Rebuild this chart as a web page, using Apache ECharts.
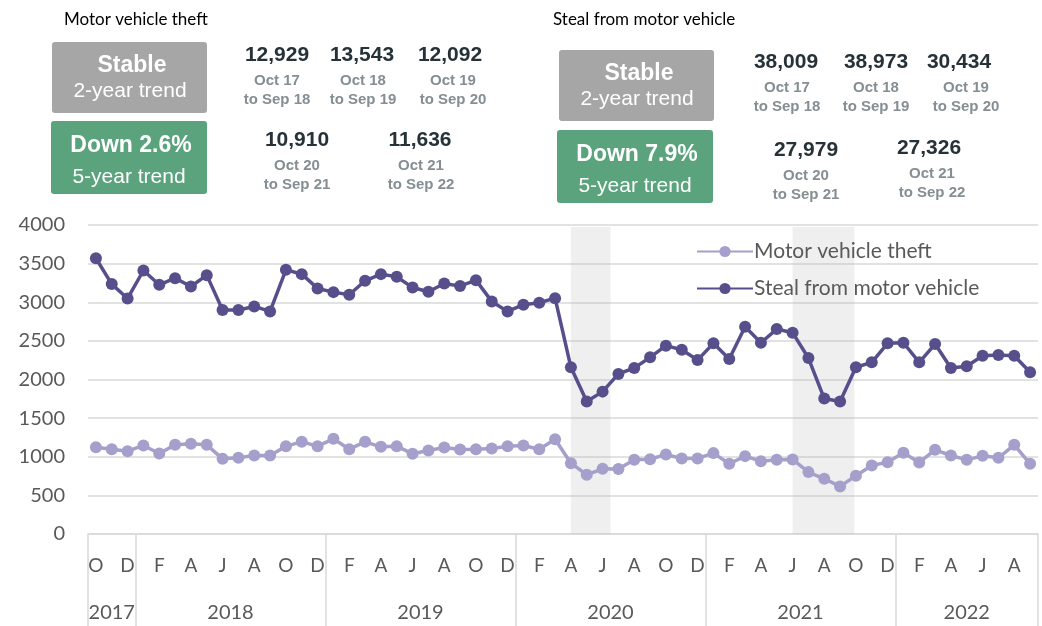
<!DOCTYPE html>
<html>
<head>
<meta charset="utf-8">
<title>Motor vehicle theft and steal from motor vehicle</title>
<script src="https://cdn.jsdelivr.net/npm/echarts@6/dist/echarts.min.js"></script>
<style>
  html, body { margin: 0; padding: 0; background: #fff; }
  #chart { width: 1042px; height: 626px; }
</style>
</head>
<body>
<div id="chart"></div>
<script>
// months Oct 2017 .. Sep 2022
var months = [
  'O','N','D',
  'J','F','M','A','M','J','J','A','S','O','N','D',
  'J','F','M','A','M','J','J','A','S','O','N','D',
  'J','F','M','A','M','J','J','A','S','O','N','D',
  'J','F','M','A','M','J','J','A','S','O','N','D',
  'J','F','M','A','M','J','J','A','S'
];
var years = ['2017', '2018', '2019', '2020', '2021', '2022'];
var yearStarts = [0, 3, 15, 27, 39, 51, 60];
var yearCentres = [1.5, 9, 21, 33, 45, 55.5];

var theft = [
  1124, 1098, 1072, 1146, 1042, 1154, 1167, 1154, 973, 986, 1016, 1016,
  1137, 1193, 1137, 1232, 1098, 1193, 1128, 1137, 1038, 1081, 1120, 1094,
  1098, 1107, 1137, 1146, 1098, 1227, 917, 767, 844, 840, 960, 969,
  1029, 978, 978, 1047, 909, 1008, 943, 960, 965, 801, 715, 616,
  754, 887, 930, 1051, 926, 1090, 1016, 960, 1012, 986, 1154, 909
];
var stealFrom = [
  3570, 3235, 3049, 3411, 3226, 3312, 3204, 3351, 2899, 2899, 2946, 2881,
  3420, 3364, 3179, 3131, 3097, 3278, 3364, 3329, 3191, 3136, 3243, 3209,
  3286, 3011, 2881, 2968, 2993, 3053, 2158, 1714, 1843, 2072, 2149, 2287,
  2438, 2386, 2253, 2468, 2265, 2683, 2476, 2653, 2606, 2278, 1753, 1714,
  2158, 2222, 2468, 2476, 2222, 2459, 2149, 2171, 2308, 2317, 2308, 2093
];

// lockdown bands (in month units from Oct 2017)
var bands = [[30.5, 33], [44.5, 48.4]];

// summary panels
var periods = ['Oct 17\nto Sep 18', 'Oct 18\nto Sep 19', 'Oct 19\nto Sep 20', 'Oct 20\nto Sep 21', 'Oct 21\nto Sep 22'];
var theftTotals = ['12,929', '13,543', '12,092', '10,910', '11,636'];
var stealTotals = ['38,009', '38,973', '30,434', '27,979', '27,326'];
var theftTrend = ['Stable', '2-year trend', 'Down 2.6%', '5-year trend'];
var stealTrend = ['Stable', '2-year trend', 'Down 7.9%', '5-year trend'];

var LIGHT = '#a59fcb';
var DARK = '#574f8c';
var GREY_TXT = '#595959';
var SANS = 'Lato, "Open Sans", sans-serif';
var ARIAL = '"Liberation Sans", Arial, sans-serif';

function panel(title, titleX, trend, totals, pos) {
  var els = [];
  els.push({ type: 'text', style: { text: title, x: titleX, y: 20, verticalAlign: 'middle', font: '17px ' + SANS, fill: '#000' } });
  els.push({ type: 'rect', shape: { x: pos.gx, y: pos.gy, width: 155, height: 71, r: 3 }, style: { fill: '#a6a6a6' } });
  els.push({ type: 'rect', shape: { x: pos.vx, y: pos.vy, width: 156, height: 73, r: 3 }, style: { fill: '#5aa37d' } });
  els.push({ type: 'text', style: { text: trend[0], x: pos.gx + 80, y: pos.gy + 24, align: 'center', verticalAlign: 'middle', font: 'bold 23px ' + ARIAL, fill: '#fff' } });
  els.push({ type: 'text', style: { text: trend[1], x: pos.gx + 78, y: pos.gy + 49, align: 'center', verticalAlign: 'middle', font: '21px ' + ARIAL, fill: '#fff' } });
  els.push({ type: 'text', style: { text: trend[2], x: pos.vx + 80, y: pos.vy + 25, align: 'center', verticalAlign: 'middle', font: 'bold 23px ' + ARIAL, fill: '#fff' } });
  els.push({ type: 'text', style: { text: trend[3], x: pos.vx + 78, y: pos.vy + 56, align: 'center', verticalAlign: 'middle', font: '21px ' + ARIAL, fill: '#fff' } });
  totals.forEach(function (t, i) {
    var c = pos.cols[i];
    els.push({ type: 'text', style: { text: t, x: c[0], y: c[1], align: 'center', verticalAlign: 'middle', font: 'bold 21px ' + ARIAL, fill: '#263238' } });
    els.push({ type: 'text', style: { text: periods[i], x: c[0] + c[2], y: c[1] + 35, align: 'center', verticalAlign: 'middle', font: 'bold 15px ' + ARIAL, fill: '#858e93', lineHeight: 19 } });
  });
  return els;
}

var graphics = []
  .concat(panel('Motor vehicle theft', 64, theftTrend, theftTotals, {
    gx: 52, gy: 42, vx: 51, vy: 121,
    cols: [[277, 55, 0], [362, 55, 1], [450, 55, 3], [297, 140, 0], [420, 140, 1]]
  }))
  .concat(panel('Steal from motor vehicle', 553, stealTrend, stealTotals, {
    gx: 559, gy: 50, vx: 557, vy: 130,
    cols: [[786, 62, 1], [876, 62, 0], [959, 62, 7], [806, 150, 0], [929, 148, 3]]
  }));

var chart = echarts.init(document.getElementById('chart'));
chart.setOption({
  animation: false,
  textStyle: { fontFamily: SANS },
  graphic: graphics,
  grid: { left: 88, right: 4, top: 225, bottom: 92 },
  legend: {
    orient: 'vertical', left: 691, top: 236,
    itemWidth: 56, itemHeight: 14, itemGap: 16,
    textStyle: { fontSize: 21, color: GREY_TXT, fontFamily: SANS, padding: [0, 0, 0, -4] },
    data: ['Motor vehicle theft', 'Steal from motor vehicle']
  },
  xAxis: [{
    type: 'category', data: months, boundaryGap: true,
    axisLine: { lineStyle: { color: '#d9d9d9', width: 1.5 } },
    axisTick: { show: false },
    axisLabel: { interval: 1, margin: 22, fontSize: 19, color: GREY_TXT, fontFamily: SANS }
  }, {
    type: 'value', min: 0, max: 60, position: 'bottom',
    splitLine: { show: false },
    axisLine: { show: false },
    axisTick: { show: true, length: 92, customValues: yearStarts, lineStyle: { color: '#d9d9d9', width: 1.5 } },
    axisLabel: {
      customValues: yearCentres, margin: 69, fontSize: 20, color: GREY_TXT, fontFamily: SANS,
      formatter: function (v) { return years[yearCentres.indexOf(v)]; }
    }
  }],
  yAxis: {
    type: 'value', min: 0, max: 4000, interval: 500,
    axisLine: { show: false }, axisTick: { show: false },
    axisLabel: { fontSize: 20, color: GREY_TXT, margin: 23, fontFamily: SANS, formatter: function (v) { return String(v); } },
    splitLine: { lineStyle: { color: '#d9d9d9', width: 1.5 } }
  },
  series: [{
    name: 'Motor vehicle theft', type: 'line', data: theft,
    symbol: 'circle', symbolSize: 12, showAllSymbol: true,
    lineStyle: { color: LIGHT, width: 3.5 }, itemStyle: { color: LIGHT }
  }, {
    name: 'Steal from motor vehicle', type: 'line', data: stealFrom,
    symbol: 'circle', symbolSize: 12, showAllSymbol: true,
    lineStyle: { color: DARK, width: 3.5 }, itemStyle: { color: DARK }
  }, {
    // shaded lockdown periods, drawn over the lines
    type: 'line', xAxisIndex: 1, data: [], z: 3, clip: false, silent: true,
    markArea: {
      silent: true,
      itemStyle: { color: 'rgba(180,180,180,0.22)' },
      data: bands.map(function (b) {
        return [{ xAxis: b[0], yAxis: 3975 }, { xAxis: b[1], yAxis: -35 }];
      })
    }
  }]
});
</script>
</body>
</html>
